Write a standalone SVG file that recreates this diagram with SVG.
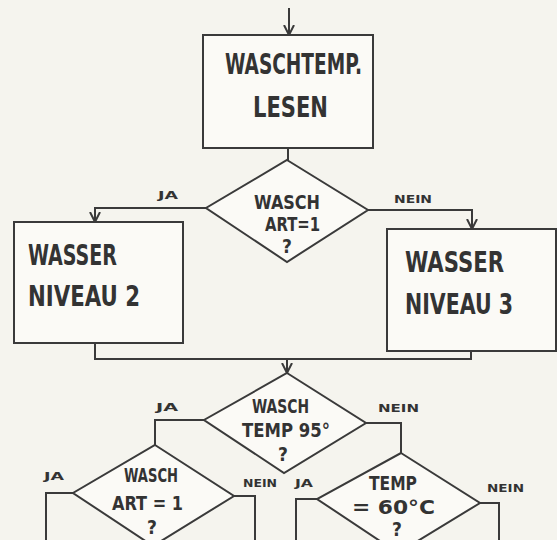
<svg xmlns="http://www.w3.org/2000/svg" width="557" height="540" viewBox="0 0 557 540">
<style>
.bg{fill:#f5f4ee}
.shape{fill:#fbfaf6;stroke:#3a3a3a;stroke-width:2}
.con{fill:none;stroke:#3a3a3a;stroke-width:2}
.t{font-family:"DejaVu Sans Condensed","Liberation Sans",sans-serif;fill:#333;font-size:29px;font-weight:bold}
.d{font-family:"DejaVu Sans Condensed","Liberation Sans",sans-serif;fill:#333;font-size:19px;font-weight:bold}
.l{font-family:"DejaVu Sans Condensed","Liberation Sans",sans-serif;fill:#333;font-size:11px;font-weight:bold}
</style>
<defs>
<marker id="arr" viewBox="0 0 10 10" refX="10" refY="5" markerWidth="10" markerHeight="12" markerUnits="userSpaceOnUse" orient="auto">
<path d="M0,0 L10,5 L0,10" fill="none" stroke="#3a3a3a" stroke-width="2"/>
</marker>
</defs>
<rect class="bg" x="0" y="0" width="557" height="540"/>
<g id="connectors">
<path class="con" d="M289,8 V35" marker-end="url(#arr)"/>
<path class="con" d="M288,148 V160"/>
<path class="con" d="M206,208 H95 V222" marker-end="url(#arr)"/>
<path class="con" d="M368,210 H472 V229" marker-end="url(#arr)"/>
<path class="con" d="M95,343 V359 H471 V351"/>
<path class="con" d="M287,359 V373" marker-end="url(#arr)"/>
<path class="con" d="M204,420 H155 V445"/>
<path class="con" d="M366,423 H401 V453"/>
<path class="con" d="M73,493 H46 V540"/>
<path class="con" d="M234,496 H255 V540"/>
<path class="con" d="M317,499 H296 V540"/>
<path class="con" d="M480,503 H499 V540"/>
</g>
<g id="labels">
<text class="l" x="158" y="199" textLength="20" lengthAdjust="spacingAndGlyphs">JA</text>
<text class="l" x="394" y="203" textLength="38" lengthAdjust="spacingAndGlyphs">NEIN</text>
<text class="l" x="156" y="411" textLength="22" lengthAdjust="spacingAndGlyphs">JA</text>
<text class="l" x="378" y="412" textLength="41" lengthAdjust="spacingAndGlyphs">NEIN</text>
<text class="l" x="44" y="480" textLength="20" lengthAdjust="spacingAndGlyphs">JA</text>
<text class="l" x="243" y="487" textLength="34" lengthAdjust="spacingAndGlyphs">NEIN</text>
<text class="l" x="295" y="487" textLength="18" lengthAdjust="spacingAndGlyphs">JA</text>
<text class="l" x="487" y="492" textLength="37" lengthAdjust="spacingAndGlyphs">NEIN</text>
</g>
<g id="box-read">
<rect class="shape" x="203" y="35" width="170" height="113"/>
<text class="t" x="225" y="74" textLength="137" lengthAdjust="spacingAndGlyphs">WASCHTEMP.</text>
<text class="t" x="253" y="117" textLength="75" lengthAdjust="spacingAndGlyphs">LESEN</text>
</g>
<g id="dec-art1">
<polygon class="shape" points="287,160 368,210 287,262 206,208"/>
<text class="d" x="254" y="209" textLength="66" lengthAdjust="spacingAndGlyphs">WASCH</text>
<text class="d" x="265" y="231" textLength="55" lengthAdjust="spacingAndGlyphs">ART=1</text>
<text class="d" x="282" y="253">?</text>
</g>
<g id="box-niveau2">
<rect class="shape" x="14" y="222" width="169" height="121"/>
<text class="t" x="28" y="265" textLength="89" lengthAdjust="spacingAndGlyphs">WASSER</text>
<text class="t" x="28" y="306" textLength="112" lengthAdjust="spacingAndGlyphs">NIVEAU 2</text>
</g>
<g id="box-niveau3">
<rect class="shape" x="387" y="229" width="169" height="122"/>
<text class="t" x="405" y="272" textLength="99" lengthAdjust="spacingAndGlyphs">WASSER</text>
<text class="t" x="405" y="314" textLength="108" lengthAdjust="spacingAndGlyphs">NIVEAU 3</text>
</g>
<g id="dec-temp95">
<polygon class="shape" points="287,373 366,423 284,473 204,420"/>
<text class="d" x="252" y="413" textLength="57" lengthAdjust="spacingAndGlyphs">WASCH</text>
<text class="d" x="242" y="437" textLength="88" lengthAdjust="spacingAndGlyphs">TEMP 95°</text>
<text class="d" x="278" y="461">?</text>
</g>
<g id="dec-art1b">
<polygon class="shape" points="155,445 234,496 153,546 73,493"/>
<text class="d" x="124" y="482" textLength="54" lengthAdjust="spacingAndGlyphs">WASCH</text>
<text class="d" x="112" y="510" textLength="71" lengthAdjust="spacingAndGlyphs">ART = 1</text>
<text class="d" x="147" y="534">?</text>
</g>
<g id="dec-temp60">
<polygon class="shape" points="401,453 480,503 398,553 317,499"/>
<text class="d" x="369" y="490" textLength="48" lengthAdjust="spacingAndGlyphs">TEMP</text>
<text class="d" x="352" y="514" textLength="83" lengthAdjust="spacingAndGlyphs">= 60°C</text>
<text class="d" x="392" y="536">?</text>
</g>
</svg>
